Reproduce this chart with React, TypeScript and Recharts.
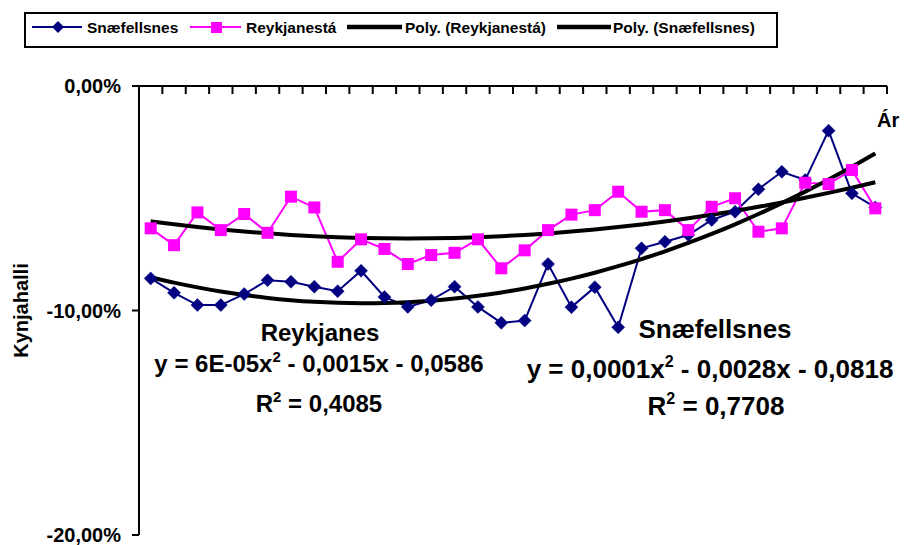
import React from 'react';
import { ComposedChart, Line, XAxis, YAxis, Legend, Customized } from 'recharts';

// Categories (year index, as used by the Excel trendline equations)
const yearIndex = [1, 2, 3, 4, 5, 6, 7, 8, 9, 10, 11, 12, 13, 14, 15, 16, 17, 18, 19, 20, 21, 22, 23, 24, 25, 26, 27, 28, 29, 30, 31, 32];

// Series values in percent
const snaefellsnes = [-8.57, -9.21, -9.76, -9.76, -9.27, -8.65, -8.72, -8.94, -9.14, -8.23, -9.40, -9.84, -9.54, -8.94, -9.84, -10.55, -10.45, -7.93, -9.85, -8.96, -10.75, -7.23, -6.94, -6.64, -5.97, -5.60, -4.60, -3.82, -4.19, -1.99, -4.78, -5.41];
const reykjanesta = [-6.34, -7.09, -5.63, -6.42, -5.70, -6.54, -4.93, -5.41, -7.83, -6.83, -7.26, -7.93, -7.53, -7.43, -6.83, -8.12, -7.32, -6.42, -5.73, -5.53, -4.71, -5.60, -5.53, -6.42, -5.38, -5.00, -6.49, -6.34, -4.31, -4.37, -3.74, -5.45];

// Axis ticks
const yTicks = [-20, -10, 0];
const xTickBoundaries = [yearIndex[0] - 0.5, ...yearIndex.map((v) => v + 0.5)];

// Labels
const seriesNames = ['Snæfellsnes', 'Reykjanestá', 'Poly. (Reykjanestá)', 'Poly. (Snæfellsnes)'];
const yAxisTitle = 'Kynjahalli';
const xAxisTitle = 'Ár';

// Least-squares 2nd order polynomial trendline (as Excel's "Poly." trendline)
function quadFit(xs: number[], ys: number[]) {
  const S = [0, 0, 0, 0, 0];
  const T = [0, 0, 0];
  for (let i = 0; i < xs.length; i++) {
    let p = 1;
    for (let k = 0; k < 5; k++) {
      S[k] += p;
      if (k < 3) T[k] += ys[i] * p;
      p *= xs[i];
    }
  }
  const M = [
    [S[0], S[1], S[2], T[0]],
    [S[1], S[2], S[3], T[1]],
    [S[2], S[3], S[4], T[2]],
  ];
  for (let c = 0; c < 3; c++) {
    for (let r = c + 1; r < 3; r++) {
      const f = M[r][c] / M[c][c];
      for (let k = c; k < 4; k++) M[r][k] -= f * M[c][k];
    }
  }
  const sol = [0, 0, 0];
  for (let r = 2; r >= 0; r--) {
    let s = M[r][3];
    for (let k = r + 1; k < 3; k++) s -= M[r][k] * sol[k];
    sol[r] = s / M[r][r];
  }
  return (x: number) => sol[0] + sol[1] * x + sol[2] * x * x;
}

const fitSnae = quadFit(yearIndex, snaefellsnes);
const fitReyk = quadFit(yearIndex, reykjanesta);

const data = yearIndex.map((x, i) => ({
  x,
  snae: snaefellsnes[i],
  reyk: reykjanesta[i],
  polyReyk: fitReyk(x),
  polySnae: fitSnae(x),
}));

const FONT = '"Liberation Sans", Arial, Helvetica, sans-serif';
const NAVY = '#000080';
const MAGENTA = '#FF00FF';

const fmtPct = (v: number) => v.toFixed(2).replace('.', ',') + '%';

const DiamondDot = (p: any) => {
  const { cx, cy, index } = p;
  if (cx == null || cy == null) return <g key={index} />;
  const r = 6.5;
  return (
    <path key={index} d={`M${cx},${cy - r}L${cx + r},${cy}L${cx},${cy + r}L${cx - r},${cy}Z`} fill={NAVY} stroke={NAVY} strokeWidth={0.5} />
  );
};

const SquareDot = (p: any) => {
  const { cx, cy, index } = p;
  if (cx == null || cy == null) return <g key={index} />;
  const s = 12;
  return <rect key={index} x={cx - s / 2} y={cy - s / 2} width={s} height={s} fill={MAGENTA} />;
};

// Category-boundary tick marks pointing down into the plot (Excel style), no labels
const XTickMark = (p: any) => {
  const { x, y, index } = p;
  return <line key={index} x1={x} y1={86} x2={x} y2={94} stroke="#000" strokeWidth={2} />;
};

const LegendContent = () => {
  const textStyle: React.CSSProperties = {
    position: 'absolute',
    top: 5,
    lineHeight: '18px',
    whiteSpace: 'nowrap',
  };
  return (
    <div
      style={{
        position: 'relative',
        width: 754,
        height: 36,
        boxSizing: 'border-box',
        border: '2px solid #000',
        background: '#fff',
        fontFamily: FONT,
        fontWeight: 'bold',
        fontSize: 15.5,
        color: '#000',
      }}
    >
      <svg style={{ position: 'absolute', left: 6, top: 5 }} width={52} height={16}>
        <line x1={0} y1={8} x2={50} y2={8} stroke={NAVY} strokeWidth={2} />
        <path d="M26,2L32,8L26,14L20,8Z" fill={NAVY} />
      </svg>
      <span style={{ ...textStyle, left: 61 }}>{seriesNames[0]}</span>
      <svg style={{ position: 'absolute', left: 164, top: 5 }} width={52} height={16}>
        <line x1={0} y1={8} x2={51} y2={8} stroke={MAGENTA} strokeWidth={2} />
        <rect x={21} y={3} width={11} height={11} fill={MAGENTA} />
      </svg>
      <span style={{ ...textStyle, left: 220 }}>{seriesNames[1]}</span>
      <svg style={{ position: 'absolute', left: 321, top: 5 }} width={56} height={16}>
        <line x1={0} y1={8} x2={55} y2={8} stroke="#000" strokeWidth={4.5} />
      </svg>
      <span style={{ ...textStyle, left: 379 }}>{seriesNames[2]}</span>
      <svg style={{ position: 'absolute', left: 531, top: 5 }} width={56} height={16}>
        <line x1={0} y1={8} x2={54} y2={8} stroke="#000" strokeWidth={4.5} />
      </svg>
      <span style={{ ...textStyle, left: 587 }}>{seriesNames[3]}</span>
    </div>
  );
};

const Annotations = () => {
  const common = { fontFamily: FONT, fontWeight: 'bold' as const, fill: '#000', textAnchor: 'middle' as const };
  return (
    <g>
      <text x={877} y={127} fontFamily={FONT} fontWeight="bold" fontSize={20} fill="#000">{xAxisTitle}</text>

      <text {...common} x={320} y={341} fontSize={24}>Reykjanes</text>
      <text {...common} x={319} y={372} fontSize={24}>
        y = 6E-05x<tspan dy={-10} fontSize={15}>2</tspan>
        <tspan dy={10}> - 0,0015x - 0,0586</tspan>
      </text>
      <text {...common} x={319} y={412} fontSize={24}>
        R<tspan dy={-10} fontSize={15}>2</tspan>
        <tspan dy={10}> = 0,4085</tspan>
      </text>

      <text {...common} x={715} y={338} fontSize={26}>Snæfellsnes</text>
      <text {...common} x={710} y={378} fontSize={26}>
        y = 0,0001x<tspan dy={-11} fontSize={16}>2</tspan>
        <tspan dy={11}> - 0,0028x - 0,0818</tspan>
      </text>
      <text {...common} x={716} y={415} fontSize={26}>
        R<tspan dy={-11} fontSize={16}>2</tspan>
        <tspan dy={11}> = 0,7708</tspan>
      </text>
    </g>
  );
};

export default function App() {
  return (
    <div style={{ position: 'absolute', left: 0, top: 0, width: 904, height: 545, background: '#fff' }}>
      <ComposedChart width={904} height={545} data={data} margin={{ top: 56, right: 17, bottom: 10, left: 0 }}>
        <XAxis
          dataKey="x"
          type="number"
          orientation="top"
          domain={[xTickBoundaries[0], xTickBoundaries[xTickBoundaries.length - 1]]}
          ticks={xTickBoundaries}
          interval={0}
          height={30}
          tick={XTickMark}
          tickLine={false}
          axisLine={{ stroke: '#000', strokeWidth: 2 }}
          allowDataOverflow
        />
        <YAxis
          type="number"
          domain={[-20, 0]}
          ticks={yTicks}
          interval={0}
          width={139}
          tickSize={7}
          tickMargin={11}
          tickFormatter={fmtPct}
          tick={{ fontSize: 20, fontWeight: 'bold', fill: '#000', fontFamily: FONT }}
          axisLine={{ stroke: '#000', strokeWidth: 2 }}
          tickLine={{ stroke: '#000', strokeWidth: 2 }}
          allowDataOverflow
          label={{
            value: yAxisTitle,
            angle: -90,
            position: 'insideLeft',
            offset: 21,
            style: { textAnchor: 'middle', fontSize: 20, fontWeight: 'bold', fill: '#000', fontFamily: FONT },
          }}
        />
        <Legend
          verticalAlign="top"
          content={LegendContent}
          wrapperStyle={{ position: 'absolute', left: 24, top: 12, width: 754, height: 0, margin: 0, padding: 0 }}
        />
        <Line
          name={seriesNames[0]}
          dataKey="snae"
          stroke={NAVY}
          strokeWidth={2}
          dot={DiamondDot}
          activeDot={false}
          isAnimationActive={false}
        />
        <Line
          name={seriesNames[1]}
          dataKey="reyk"
          stroke={MAGENTA}
          strokeWidth={2}
          dot={SquareDot}
          activeDot={false}
          isAnimationActive={false}
        />
        <Line
          name={seriesNames[2]}
          dataKey="polyReyk"
          type="natural"
          stroke="#000"
          strokeWidth={4}
          dot={false}
          activeDot={false}
          isAnimationActive={false}
        />
        <Line
          name={seriesNames[3]}
          dataKey="polySnae"
          type="natural"
          stroke="#000"
          strokeWidth={4}
          dot={false}
          activeDot={false}
          isAnimationActive={false}
        />
        <Customized component={Annotations} />
      </ComposedChart>
    </div>
  );
}
